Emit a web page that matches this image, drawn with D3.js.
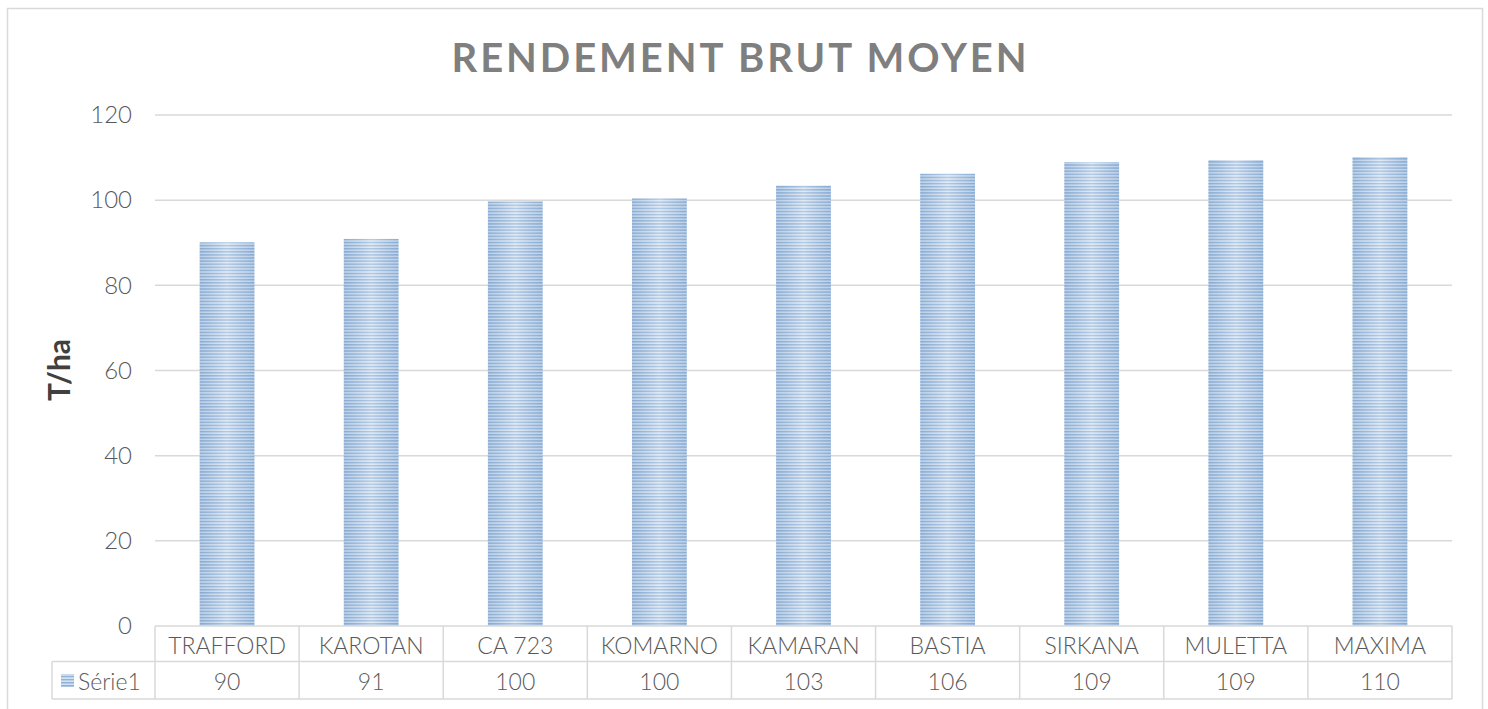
<!DOCTYPE html>
<html>
<head>
<meta charset="utf-8">
<script src="https://cdn.jsdelivr.net/npm/d3@7"></script>
<style>
  html, body { margin: 0; padding: 0; background: #fff; }
  svg { display: block; }
  text { font-family: Lato, "Open Sans", sans-serif; }
</style>
</head>
<body>
<script>
const categories = ["TRAFFORD", "KAROTAN", "CA 723", "KOMARNO", "KAMARAN", "BASTIA", "SIRKANA", "MULETTA", "MAXIMA"];
const values = [90.1, 90.9, 99.7, 100.4, 103.4, 106.2, 108.9, 109.4, 110.1];
const yTicks = [0, 20, 40, 60, 80, 100, 120];
const seriesName = "Série1";
const chartTitle = "RENDEMENT BRUT MOYEN";
const yLabel = "T/ha";

(function () {
const W = 1488, H = 709;
const svg = d3.select("body").append("svg").attr("width", W).attr("height", H);

const defs = svg.append("defs");
const pat = defs.append("pattern").attr("id", "stripes")
  .attr("patternUnits", "userSpaceOnUse").attr("width", 8).attr("height", 3.1);
pat.append("rect").attr("width", 8).attr("height", 3.1).attr("fill", "#d3e1f1");
pat.append("rect").attr("y", 0).attr("width", 8).attr("height", 1.4).attr("fill", "#8eb0d6");
const grad = defs.append("linearGradient").attr("id", "shine").attr("x1", "0").attr("x2", "1").attr("y1", "0").attr("y2", "0");
grad.append("stop").attr("offset", "0").attr("stop-color", "#6f97c6").attr("stop-opacity", 0.25);
grad.append("stop").attr("offset", "0.5").attr("stop-color", "#ffffff").attr("stop-opacity", 0.3);
grad.append("stop").attr("offset", "1").attr("stop-color", "#6f97c6").attr("stop-opacity", 0.25);

// outer border
svg.append("rect").attr("x", 7.5).attr("y", 8.5).attr("width", 1475).attr("height", 730)
  .attr("fill", "none").attr("stroke", "#d9d9d9").attr("stroke-width", 1.5);

// title
svg.append("text").attr("x", 742).attr("y", 72).attr("text-anchor", "middle")
  .attr("font-size", 40).attr("font-weight", "bold").attr("fill", "#7f7f7f")
  .attr("letter-spacing", 6)
  .attr("textLength", 581).attr("lengthAdjust", "spacing")
  .text(chartTitle);

const pLeft = 155, pRight = 1452, pTop = 115, pBottom = 626;
const x = d3.scaleBand().domain(categories).range([pLeft, pRight]).padding(0);
const y = d3.scaleLinear().domain([0, 120]).range([pBottom, pTop]);

// gridlines
svg.append("g").selectAll("line").data(yTicks.filter(t => t > 0)).join("line")
  .attr("x1", pLeft).attr("x2", pRight)
  .attr("y1", d => y(d)).attr("y2", d => y(d))
  .attr("stroke", "#d9d9d9").attr("stroke-width", 1.5);

// y axis tick labels
const yAxis = d3.axisLeft(y).tickValues(yTicks).tickSize(0).tickPadding(0);
const gy = svg.append("g").attr("transform", "translate(132,0)").call(yAxis);
gy.select(".domain").remove();
gy.selectAll("text").attr("font-size", 24).attr("font-weight", 300).attr("fill", "#595959")
  .attr("font-family", "Lato, 'Open Sans', sans-serif");

// y label
svg.append("text").attr("transform", "translate(70,370) rotate(-90)")
  .attr("text-anchor", "middle").attr("font-size", 30).attr("font-weight", "bold")
  .attr("fill", "#404040").text(yLabel);

// bars
const barW = x.bandwidth() * 0.38;
const bars = svg.append("g");
bars.selectAll("rect.bar").data(values).join("rect").attr("class", "bar")
  .attr("x", (d, i) => x(categories[i]) + (x.bandwidth() - barW) / 2)
  .attr("width", barW)
  .attr("y", d => y(d)).attr("height", d => y(0) - y(d))
  .attr("fill", "url(#stripes)");
bars.selectAll("rect.shine").data(values).join("rect").attr("class", "shine")
  .attr("x", (d, i) => x(categories[i]) + (x.bandwidth() - barW) / 2)
  .attr("width", barW)
  .attr("y", d => y(d)).attr("height", d => y(0) - y(d))
  .attr("fill", "url(#shine)");

// data table
const r1 = pBottom, r2 = 661.5, r3 = 699;
const legendLeft = 52;
const tg = svg.append("g").attr("stroke", "#d9d9d9").attr("stroke-width", 1.5);
tg.append("line").attr("x1", pLeft).attr("x2", pRight).attr("y1", r1).attr("y2", r1);
tg.append("line").attr("x1", legendLeft).attr("x2", pRight).attr("y1", r2).attr("y2", r2);
tg.append("line").attr("x1", legendLeft).attr("x2", pRight).attr("y1", r3).attr("y2", r3);
tg.append("line").attr("x1", legendLeft).attr("x2", legendLeft).attr("y1", r2).attr("y2", r3);
const bounds = categories.map(c => x(c)).concat([pRight]);
tg.selectAll("line.v").data(bounds).join("line").attr("class", "v")
  .attr("x1", d => d).attr("x2", d => d).attr("y1", r1).attr("y2", r3);

svg.append("g").selectAll("text").data(categories).join("text")
  .attr("x", d => x(d) + x.bandwidth() / 2).attr("y", (r1 + r2) / 2 + 1)
  .attr("text-anchor", "middle").attr("dominant-baseline", "central")
  .attr("font-size", 23).attr("font-weight", 300).attr("fill", "#595959").text(d => d);

const fmt = d3.format(".0f");
svg.append("g").selectAll("text").data(values).join("text")
  .attr("x", (d, i) => x(categories[i]) + x.bandwidth() / 2).attr("y", (r2 + r3) / 2 + 1)
  .attr("text-anchor", "middle").attr("dominant-baseline", "central")
  .attr("font-size", 23).attr("font-weight", 300).attr("fill", "#595959").text(d => fmt(d));

// legend key
svg.append("rect").attr("x", 61).attr("y", 674).attr("width", 13).attr("height", 13)
  .attr("fill", "url(#stripes)");
svg.append("text").attr("x", 78).attr("y", (r2 + r3) / 2 + 1)
  .attr("dominant-baseline", "central").attr("font-size", 23).attr("font-weight", 300).attr("fill", "#595959")
  .text(seriesName);
})();
</script>
</body>
</html>
